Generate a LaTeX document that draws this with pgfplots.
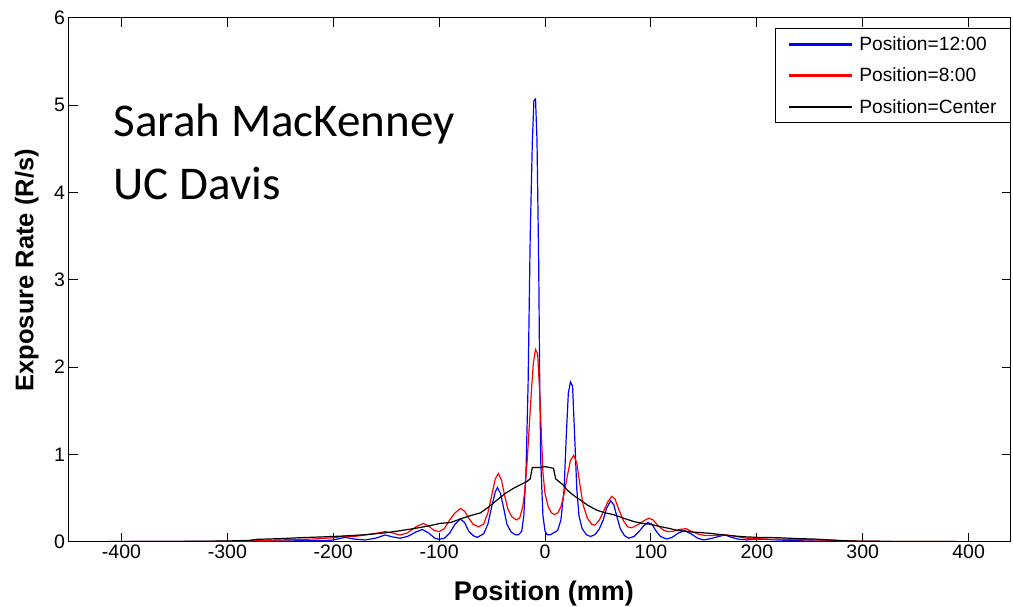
\documentclass[border=0pt]{standalone}
\usepackage{fontspec}
\setmainfont{Liberation Sans}
\newfontfamily\calib{Carlito}
\usepackage{pgfplots}
\pgfplotsset{compat=1.18}
\definecolor{mblue}{RGB}{0,0,255}
\definecolor{mred}{RGB}{255,0,0}
\begin{document}
\begin{tikzpicture}[x=1pt,y=1pt]
\useasboundingbox (0,0) rectangle (1013,606);
\begin{axis}[
  at={(68.5pt,64.3pt)}, anchor=south west,
  scale only axis, width=942.5pt, height=524pt,
  xmin=-450, xmax=440, ymin=0, ymax=6,
  xtick={-400,-300,...,400}, ytick={0,1,...,6},
  tick align=inside, tick pos=both,
  major tick length=9pt,
  axis line style={line width=1pt},
  every tick/.style={black,line width=1pt},
  ticklabel style={font=\fontsize{19.5}{20}\selectfont},
  /pgf/number format/assume math mode=true,
  xlabel={\bfseries Position (mm)},
  ylabel={\bfseries Exposure Rate (R/s)},
  xlabel style={font=\fontsize{27}{30}\selectfont, at={(axis description cs:0.5045,-0.1126)}, anchor=base},
  ylabel style={font=\fontsize{25.5}{28}\selectfont, at={(axis description cs:-0.0373,0.518)}, anchor=base},
  legend style={at={(axis description cs:1,0.9803)}, anchor=north east,
    font=\fontsize{19.2}{22}\selectfont, draw=black, line width=1pt,
    nodes={inner sep=0pt}, inner xsep=14pt, inner ysep=8pt, row sep=16pt},
  legend cell align=left,
  clip=true,
]
\addlegendimage{legend image code/.code={\fill[mblue] (0pt,-0.8pt) rectangle (62pt,0.8pt); \path (69pt,0pt);}}
\addlegendentry{Position=12:00\hspace*{6pt}}
\addlegendimage{legend image code/.code={\fill[mred] (0pt,-0.8pt) rectangle (62pt,0.8pt); \path (69pt,0pt);}}
\addlegendentry{Position=8:00}
\addlegendimage{legend image code/.code={\fill[black] (0pt,-0.6pt) rectangle (62pt,0.6pt); \path (69pt,0pt);}}
\addlegendentry{Position=Center}
\addplot[mblue, line width=1.2pt, forget plot] coordinates {
(-450,0) (-300,0.003) (-250,0.008) (-220,0.012) (-210,0.01) (-200,0.02) (-189,0.05) (-180,0.03) (-170,0.02) (-160,0.04) (-151,0.077) (-144,0.055) (-137,0.04) (-130,0.06) (-122,0.11) (-116,0.14) (-110,0.1) (-104,0.04) (-100,0.027) (-95,0.04) (-90,0.1) (-85,0.2) (-80,0.26) (-76,0.22) (-72,0.12) (-68,0.07) (-64,0.05) (-58,0.09) (-54,0.2) (-50,0.42) (-47,0.57) (-45,0.62) (-42,0.55) (-39,0.38) (-36,0.2) (-32,0.11) (-28,0.08) (-25,0.08) (-22,0.12) (-20,0.3) (-18,0.8) (-16,1.8) (-14,3.5) (-12,4.58) (-10.5,5.05) (-9,5.07) (-7.6,4.6) (-6,3.2) (-5,1.8) (-4,0.9) (-2,0.3) (0,0.12) (2,0.08) (5,0.08) (8,0.1) (12,0.13) (15,0.25) (18,0.6) (20,1.2) (22,1.7) (24,1.83) (26,1.78) (28,1.2) (30,0.6) (32,0.3) (35,0.15) (39,0.08) (43,0.06) (47,0.08) (51,0.14) (55,0.25) (58,0.38) (62,0.47) (65,0.42) (68,0.28) (71,0.15) (75,0.07) (79,0.04) (84,0.06) (89,0.12) (93,0.18) (97,0.22) (101,0.2) (105,0.12) (109,0.06) (115,0.03) (120,0.05) (126,0.1) (132,0.126) (138,0.09) (144,0.04) (150,0.02) (158,0.04) (164,0.06) (170,0.077) (176,0.05) (182,0.03) (190,0.02) (200,0.03) (210,0.025) (220,0.02) (240,0.01) (270,0.008) (300,0.003) (330,0.001) (440,0)
};
\addplot[mred, line width=1.2pt, forget plot] coordinates {
(-450,0) (-350,0.002) (-300,0.005) (-250,0.02) (-220,0.03) (-200,0.045) (-189,0.065) (-180,0.06) (-170,0.077) (-160,0.095) (-151,0.115) (-144,0.1) (-137,0.077) (-130,0.1) (-122,0.17) (-115,0.21) (-110,0.18) (-105,0.13) (-100,0.115) (-95,0.15) (-90,0.25) (-85,0.33) (-80,0.38) (-76,0.35) (-72,0.27) (-68,0.2) (-63,0.17) (-58,0.2) (-54,0.33) (-50,0.55) (-47,0.72) (-44,0.78) (-41,0.7) (-38,0.52) (-35,0.37) (-31,0.28) (-27,0.25) (-24,0.27) (-21,0.4) (-19,0.6) (-17,0.9) (-15,1.3) (-13,1.7) (-11,2.05) (-9,2.2) (-7,2.15) (-5,1.7) (-3,1.1) (-2,0.79) (0,0.55) (3,0.4) (6,0.33) (9,0.31) (12,0.33) (15,0.4) (18,0.55) (21,0.75) (24,0.93) (27,0.99) (30,0.9) (33,0.65) (36,0.42) (40,0.27) (44,0.2) (47,0.19) (51,0.24) (55,0.34) (59,0.45) (63,0.52) (66,0.49) (70,0.36) (74,0.24) (78,0.17) (82,0.16) (87,0.19) (92,0.23) (98,0.27) (102,0.25) (107,0.18) (112,0.13) (116,0.115) (121,0.12) (127,0.14) (133,0.15) (138,0.12) (145,0.085) (152,0.07) (160,0.07) (166,0.075) (170,0.08) (178,0.065) (190,0.04) (210,0.03) (230,0.025) (260,0.02) (275,0.015) (300,0.005) (350,0.002) (440,0)
};
\addplot[black, line width=1.2pt, forget plot] coordinates {
(-450,0) (-350,0.003) (-300,0.008) (-280,0.015) (-272,0.027) (-250,0.035) (-231,0.046) (-210,0.055) (-190,0.065) (-170,0.08) (-152,0.10) (-140,0.12) (-124,0.15) (-110,0.18) (-99,0.21) (-89,0.22) (-80,0.26) (-70,0.3) (-61,0.33) (-53,0.4) (-45,0.48) (-38,0.55) (-30,0.61) (-22,0.66) (-17,0.69) (-14,0.72) (-12,0.85) (-5,0.85) (0,0.86) (4,0.85) (8,0.84) (10,0.72) (14,0.68) (17,0.65) (21,0.59) (27,0.53) (33,0.48) (40,0.42) (49,0.36) (57,0.33) (64.5,0.31) (74,0.27) (84,0.23) (92,0.21) (99,0.2) (110,0.17) (118,0.15) (125,0.13) (140,0.11) (156,0.096) (170,0.075) (187,0.057) (200,0.05) (219,0.046) (240,0.035) (255,0.03) (269,0.02) (280,0.012) (300,0.005) (350,0.002) (440,0)
};
\node[anchor=base west, font=\calib\fontsize{47}{50}\selectfont, inner sep=0pt] at (axis cs:-407.4,4.64) {Sarah MacKenney};
\node[anchor=base west, font=\calib\fontsize{47}{50}\selectfont, inner sep=0pt] at (axis cs:-407.4,3.914) {UC Davis};
\end{axis}
\end{tikzpicture}
\end{document}
